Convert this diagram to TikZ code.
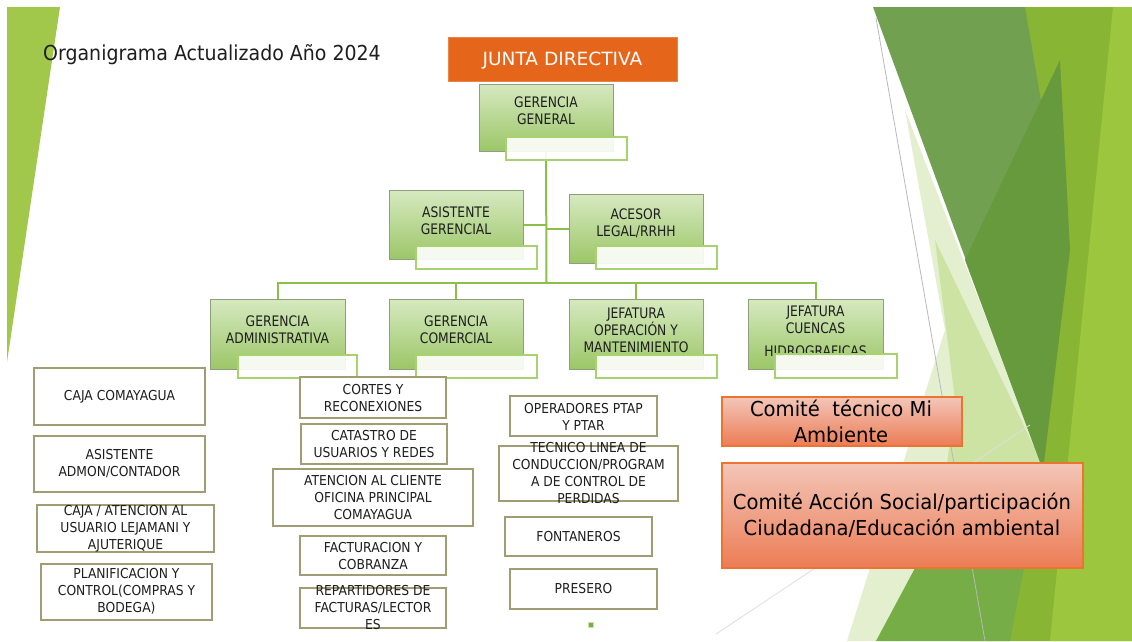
\documentclass[tikz,border=0pt]{standalone}
\usepackage{fontspec}
\setmainfont{DejaVu Sans}
\newfontfamily\titlefont[FakeStretch=0.92]{DejaVu Sans}
\newfontfamily\jdfont[FakeStretch=1.02]{DejaVu Sans}
\newfontfamily\gfont[FakeStretch=0.85]{DejaVu Sans}
\newfontfamily\wfont[FakeStretch=0.9]{DejaVu Sans}
\newfontfamily\cfont[FakeStretch=0.95]{DejaVu Sans}
\definecolor{gtop}{HTML}{D6E9C0}
\definecolor{gbot}{HTML}{9CC667}
\definecolor{gborder}{HTML}{8E9F80}
\definecolor{ovborder}{HTML}{A8D26E}
\definecolor{linegreen}{HTML}{8CBF48}
\definecolor{jdorange}{HTML}{E5661B}
\definecolor{ctop}{HTML}{F3C6B8}
\definecolor{cbot}{HTML}{EC7C55}
\definecolor{cborder}{HTML}{EC7330}
\definecolor{oliveb}{HTML}{A29C74}
\definecolor{txt}{HTML}{1E1E1E}
\definecolor{leftgreen}{HTML}{A1C84A}
\definecolor{limeg}{HTML}{88B634}
\definecolor{brightlime}{HTML}{9BC63E}
\definecolor{muted}{HTML}{70A050}
\definecolor{darkg}{HTML}{679A3D}
\definecolor{paleg}{HTML}{E4EFCF}
\definecolor{lightg}{HTML}{CDE3A3}
\definecolor{midg}{HTML}{76AD47}
\begin{document}
\begin{tikzpicture}[x=1pt,y=-1pt,
 gbox/.style={draw=gborder, line width=1pt, top color=gtop, bottom color=gbot, minimum width=134pt, minimum height=69pt, inner sep=0pt},
 ovbox/.style={draw=ovborder, line width=1.2pt, fill=white, fill opacity=0.9, minimum width=121pt, minimum height=23pt, inner sep=0pt},
 wbox/.style={draw=oliveb, line width=1.3pt, fill=white, inner sep=0pt},
 gtext/.style={font=\gfont\fontsize{14.5}{17}\selectfont, text=txt, align=center, inner sep=0pt},
 wtext/.style={font=\wfont\fontsize{13.7}{17}\selectfont, text=txt, align=center, inner sep=0pt},
 cbox/.style={draw=cborder, line width=1.2pt, top color=ctop, bottom color=cbot, inner sep=0pt},
 ctext/.style={font=\cfont\fontsize{20.6}{26.5}\selectfont, text=black, align=center, inner sep=0pt},
 conn/.style={draw=linegreen, line width=2pt},
]
\useasboundingbox (0,0) rectangle (1132,641);
\fill[white] (0,0) rectangle (1132,641);
% background facets
\fill[leftgreen] (7,7) -- (60,7) -- (7,362) -- cycle;
\fill[limeg] (1025,7) -- (1132,7) -- (1132,641) -- (960,641) -- (1043,470) -- cycle;
\fill[paleg] (905,110) -- (1045,470) -- (900,641) -- (847,641) -- (945,330) -- cycle;
\fill[lightg] (935,240) -- (1045,470) -- (930,600) -- (955,400) -- cycle;
\fill[muted] (873,7) -- (1025,7) -- (1068,260) -- (1043,470) -- cycle;
\fill[darkg] (1060,60) -- (1070,250) -- (1043,470) -- (965,260) -- cycle;
\fill[midg] (1043,470) -- (1010,641) -- (876,641) -- (930,540) -- cycle;
\fill[brightlime] (1113,7) -- (1132,7) -- (1132,641) -- (1050,641) -- cycle;
\draw[gray!55, line width=0.8pt] (876,18) -- (985,641);
\draw[gray!25, line width=0.8pt] (1030,425) -- (716,634);

% title
\node[anchor=base west, font=\titlefont\fontsize{20.6}{25}\selectfont, text=txt, inner sep=0pt] (title) at (43,60) {Organigrama Actualizado Año 2024};

% junta directiva
\node[fill=jdorange, draw=jdorange!80!white, minimum width=229pt, minimum height=44pt, inner sep=0pt] (jd) at (562.5,59) {};
\node[anchor=base, font=\jdfont\fontsize{18.2}{22}\selectfont, text=white, inner sep=0pt] (jdt) at (562.5,65) {JUNTA DIRECTIVA};

% green boxes
\node[gbox, minimum height=67pt] (gg) at (546,117.5) {};
\node[gbox] (ag) at (456,225) {};
\node[gbox] (al) at (636,229) {};
\node[gbox, minimum width=135pt, minimum height=70pt] (ga) at (277.5,334) {};
\node[gbox, minimum height=70pt] (gc) at (456,334) {};
\node[gbox, minimum height=70pt] (jo) at (636,334) {};
\node[gbox, minimum width=135pt, minimum height=70pt] (jc) at (815.5,334) {};

% connectors
\coordinate (bus) at (546.5,283);
\draw[conn] (gg.south) -- (bus);
\draw[conn] (ag.east) -- (ag.east -| bus);
\draw[conn] (al.west) -- (al.west -| bus);
\draw[conn] (ga.north) |- (jc.north |- bus) -- (jc.north);
\draw[conn] (gc.north) -- (gc.north |- bus);
\draw[conn] (jo.north) -- (jo.north |- bus);

% green box texts
\node[gtext] (ggt) at (546,110.5) {GERENCIA\\GENERAL};
\node[gtext] (agt) at (456,220.5) {ASISTENTE\\GERENCIAL};
\node[gtext] (alt) at (636,223.5) {ACESOR\\LEGAL/RRHH};
\node[gtext] (gat) at (277.5,330) {GERENCIA\\ADMINISTRATIVA};
\node[gtext] (gct) at (456,330) {GERENCIA\\COMERCIAL};
\node[gtext] (jot) at (636,330) {JEFATURA\\OPERACIÓN Y\\MANTENIMIENTO};
\node[gtext] (jct) at (815.5,331) {JEFATURA\\CUENCAS\\[6pt]HIDROGRAFICAS};

% overlays
\node[ovbox] (ggo) at (566.5,148.5) {};
\node[ovbox] (ago) at (476.5,257.5) {};
\node[ovbox] (alo) at (656.5,257.5) {};
\node[ovbox, minimum width=119pt] (gao) at (297.5,366.5) {};
\node[ovbox] (gco) at (476.5,366.5) {};
\node[ovbox] (joo) at (656.5,366.5) {};
\node[ovbox, minimum width=122pt, minimum height=24pt] (jco) at (836,366) {};

% white boxes
\node[wbox, minimum width=171pt, minimum height=57pt] (cc) at (119.5,396.5) {};
\node[wtext] (cct) at (119.5,397) {CAJA COMAYAGUA};
\node[wbox, minimum width=171pt, minimum height=56pt] (aa) at (119.5,464) {};
\node[wtext] (aat) at (119.5,463.5) {ASISTENTE\\ADMON/CONTADOR};
\node[wbox, minimum width=177pt, minimum height=47pt] (cl) at (125.5,528.5) {};
\node[wtext] (clt) at (125.5,528.5) {CAJA / ATENCION AL\\USUARIO LEJAMANI Y\\AJUTERIQUE};
\node[wbox, minimum width=171pt, minimum height=56pt] (pc) at (126.5,592) {};
\node[wtext] (pct) at (126.5,591.5) {PLANIFICACION Y\\CONTROL(COMPRAS Y\\BODEGA)};

\node[wbox, minimum width=146pt, minimum height=41pt] (cr) at (373,397.5) {};
\node[wtext] (crt) at (373,398.5) {CORTES Y\\RECONEXIONES};
\node[wbox, minimum width=146pt, minimum height=40pt] (ca) at (374,444) {};
\node[wtext] (cat) at (374,444) {CATASTRO DE\\USUARIOS Y REDES};
\node[wbox, minimum width=200pt, minimum height=57pt] (at) at (373,497.5) {};
\node[wtext] (att) at (373,497.5) {ATENCION AL CLIENTE\\OFICINA PRINCIPAL\\COMAYAGUA};
\node[wbox, minimum width=146pt, minimum height=39pt] (fc) at (373,555.5) {};
\node[wtext] (fct) at (373,555.5) {FACTURACION Y\\COBRANZA};
\node[wbox, minimum width=146pt, minimum height=40pt] (rp) at (373,608) {};
\node[wtext] (rpt) at (373,607.5) {REPARTIDORES DE\\FACTURAS/LECTOR\\ES};

\node[wbox, minimum width=147pt, minimum height=40pt] (op) at (583.5,416) {};
\node[wtext] (opt) at (583.5,416.5) {OPERADORES PTAP\\Y PTAR};
\node[wbox, minimum width=179pt, minimum height=55pt] (tl) at (588.5,473.5) {};
\node[wtext] (tlt) at (588.5,473) {TECNICO LINEA DE\\CONDUCCION/PROGRAM\\A DE CONTROL DE\\PERDIDAS};
\node[wbox, minimum width=147pt, minimum height=39pt] (fo) at (578.5,536.5) {};
\node[wtext] (fot) at (578.5,537) {FONTANEROS};
\node[wbox, minimum width=147pt, minimum height=40pt] (pr) at (583.5,589) {};
\node[wtext] (prt) at (583.5,589) {PRESERO};
\node[fill=midg, draw=lightg, line width=0.6pt, minimum size=5pt, inner sep=0pt] (sq) at (591,625) {};

% committees
\node[cbox, minimum width=240pt, minimum height=49pt] (ct) at (842,421.5) {};
\node[ctext] (ctt) at (841,421.5) {Comité\ \ técnico Mi\\Ambiente};
\node[cbox, minimum width=361pt, minimum height=105pt] (cs) at (902.5,515.5) {};
\node[ctext] (cst) at (902,515) {Comité Acción Social/participación\\Ciudadana/Educación ambiental};
\end{tikzpicture}
\end{document}
